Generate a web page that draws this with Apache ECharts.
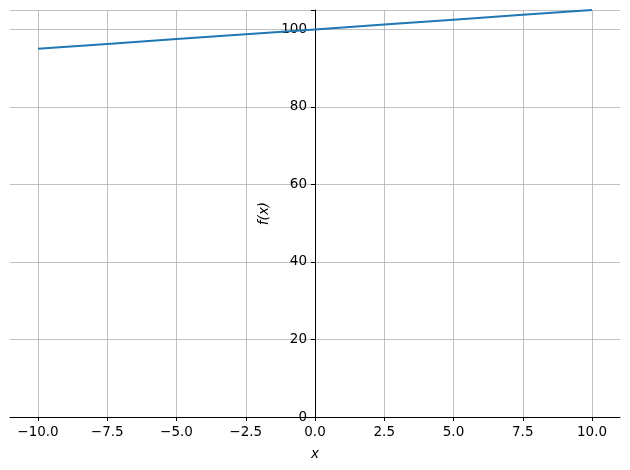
<!DOCTYPE html>
<html><head><meta charset="utf-8">
<script src="https://cdn.jsdelivr.net/npm/echarts@6/dist/echarts.min.js"></script>
<style>html,body{margin:0;padding:0;background:#fff}#c{width:630px;height:470px}</style>
</head><body><div id="c"></div>
<script>
const xValues = [-10, -7.5, -5, -2.5, 0, 2.5, 5, 7.5, 10];
const yValues = [95, 96.25, 97.5, 98.75, 100, 101.25, 102.5, 103.75, 105];
const xTickLabels = ['−10.0','−7.5','−5.0','−2.5','0.0','2.5','5.0','7.5','10.0'];
const yTickLabels = ['0','20','40','60','80','100'];

const font = 'DejaVu Sans';
const chart = echarts.init(document.getElementById('c'), null, {renderer:'canvas'});
const gridBase = {top:10,bottom:53,containLabel:false,outerBoundsMode:'none'};
chart.setOption({
  animation:false,
  grid:[
    Object.assign({left:10,right:10},gridBase),
    Object.assign({left:38,right:38},gridBase),
    Object.assign({left:315,right:10},gridBase)
  ],
  xAxis:[
    {gridIndex:0,type:'value',min:-11,max:11,position:'bottom',
     axisLine:{show:true,onZero:false,lineStyle:{color:'#000',width:1}},
     axisTick:{show:false},axisLabel:{show:false},splitLine:{show:false},
     name:'x',nameLocation:'middle',nameGap:30,
     nameTextStyle:{fontFamily:font,fontSize:13.5,fontStyle:'italic',color:'#000'}},
    {gridIndex:1,type:'value',min:-10,max:10,interval:2.5,position:'bottom',
     axisLine:{show:false,onZero:false},
     axisTick:{show:true,length:4,lineStyle:{color:'#000'}},
     axisLabel:{show:true,margin:8,fontFamily:font,fontSize:13.5,color:'#000',
       formatter:function(v){const i=xValues.indexOf(v);return i>=0?xTickLabels[i]:'';}},
     splitLine:{show:true,lineStyle:{color:'#b0b0b0',width:0.8}}},
    {gridIndex:2,type:'value',min:0,max:10,show:false}
  ],
  yAxis:[
    {gridIndex:0,type:'value',min:0,max:105,interval:20,
     axisLine:{show:false,onZero:false},axisTick:{show:false},axisLabel:{show:false},
     splitLine:{show:true,lineStyle:{color:'#b0b0b0',width:0.8}}},
    {gridIndex:1,type:'value',min:0,max:105,show:false},
    {gridIndex:2,type:'value',min:0,max:105,interval:20,position:'left',
     axisLine:{show:true,onZero:false,lineStyle:{color:'#000',width:1}},
     axisTick:{show:true,length:4,lineStyle:{color:'#000'}},
     axisLabel:{show:true,margin:8,fontFamily:font,fontSize:13.5,color:'#000',
       formatter:function(v){const s=String(v);return yTickLabels.indexOf(s)>=0?s:'';}},
     splitLine:{show:false},
     name:'f(x)',nameLocation:'middle',nameGap:44,nameRotate:90,
     nameTextStyle:{fontFamily:font,fontSize:13.5,fontStyle:'italic',color:'#000'}}
  ],
  series:[{
    type:'line',xAxisIndex:1,yAxisIndex:1,showSymbol:false,
    data:xValues.map((x,i)=>[x,yValues[i]]),
    lineStyle:{color:'#1f77b4',width:2},z:5
  }]
});
</script></body></html>
